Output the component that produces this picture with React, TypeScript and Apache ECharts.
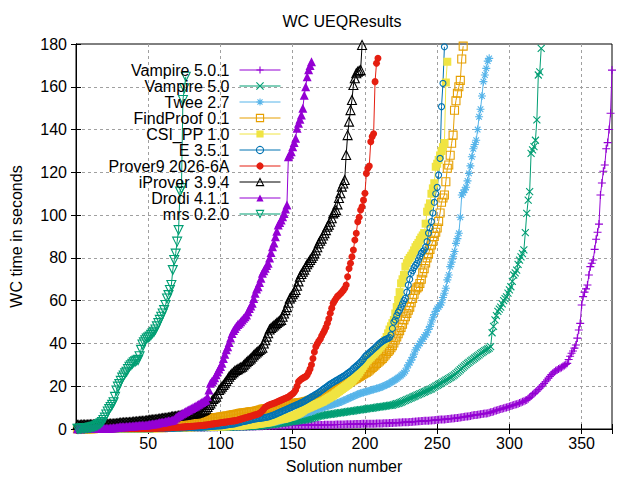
import React, { useEffect, useRef } from "react";
import * as echarts from "echarts";

// WC time in seconds, sorted; the solution number is index + 1
const vampire501Times = [
  0.1, 0.1, 0.1, 0.1, 0.1, 0.1, 0.1, 0.1, 0.1, 0.1,
  0.1, 0.1, 0.1, 0.1, 0.1, 0.1, 0.1, 0.1, 0.1, 0.1,
  0.2, 0.2, 0.2, 0.2, 0.2, 0.2, 0.2, 0.2, 0.2, 0.2,
  0.2, 0.2, 0.2, 0.2, 0.2, 0.2, 0.2, 0.3, 0.3, 0.3,
  0.3, 0.3, 0.3, 0.3, 0.3, 0.3, 0.3, 0.3, 0.3, 0.3,
  0.3, 0.3, 0.4, 0.4, 0.4, 0.4, 0.4, 0.4, 0.4, 0.4,
  0.4, 0.4, 0.4, 0.5, 0.5, 0.5, 0.5, 0.5, 0.5, 0.5,
  0.5, 0.5, 0.5, 0.6, 0.6, 0.6, 0.6, 0.6, 0.6, 0.6,
  0.6, 0.7, 0.7, 0.7, 0.7, 0.7, 0.7, 0.7, 0.7, 0.8,
  0.8, 0.8, 0.8, 0.8, 0.8, 0.8, 0.8, 0.8, 0.9, 0.9,
  0.9, 0.9, 0.9, 0.9, 0.9, 1.0, 1.0, 1.0, 1.0, 1.0,
  1.0, 1.0, 1.1, 1.1, 1.1, 1.1, 1.1, 1.1, 1.2, 1.2,
  1.2, 1.2, 1.2, 1.2, 1.3, 1.3, 1.3, 1.3, 1.3, 1.4,
  1.4, 1.4, 1.4, 1.4, 1.5, 1.5, 1.5, 1.5, 1.5, 1.6,
  1.6, 1.6, 1.6, 1.6, 1.6, 1.7, 1.7, 1.7, 1.7, 1.7,
  1.7, 1.7, 1.8, 1.8, 1.8, 1.8, 1.8, 1.8, 1.8, 1.8,
  1.8, 1.8, 1.9, 1.9, 1.9, 1.9, 1.9, 1.9, 1.9, 1.9,
  1.9, 2.0, 2.0, 2.0, 2.0, 2.0, 2.0, 2.0, 2.0, 2.1,
  2.1, 2.1, 2.1, 2.1, 2.1, 2.1, 2.2, 2.2, 2.2, 2.2,
  2.2, 2.2, 2.3, 2.3, 2.3, 2.3, 2.3, 2.4, 2.4, 2.4,
  2.4, 2.4, 2.5, 2.5, 2.5, 2.5, 2.5, 2.6, 2.6, 2.6,
  2.6, 2.6, 2.7, 2.7, 2.7, 2.7, 2.8, 2.8, 2.8, 2.9,
  2.9, 2.9, 3.0, 3.0, 3.0, 3.1, 3.1, 3.2, 3.2, 3.2,
  3.3, 3.3, 3.4, 3.4, 3.5, 3.5, 3.6, 3.6, 3.7, 3.7,
  3.8, 3.8, 3.9, 3.9, 4.0, 4.0, 4.1, 4.1, 4.2, 4.3,
  4.3, 4.4, 4.4, 4.5, 4.5, 4.6, 4.7, 4.7, 4.8, 4.9,
  4.9, 5.0, 5.1, 5.2, 5.3, 5.4, 5.5, 5.6, 5.7, 5.8,
  5.9, 6.0, 6.1, 6.3, 6.4, 6.5, 6.6, 6.7, 6.8, 6.9,
  7.0, 7.1, 7.2, 7.3, 7.4, 7.6, 7.8, 8.0, 8.2, 8.5,
  8.7, 8.9, 9.1, 9.3, 9.5, 9.7, 9.9, 10.1, 10.3, 10.5,
  10.8, 11.0, 11.2, 11.4, 11.6, 11.8, 12.1, 12.4, 12.7, 13.0,
  13.3, 13.6, 14.2, 14.8, 15.4, 16.0, 16.6, 17.2, 17.8, 18.5,
  19.2, 19.9, 20.6, 21.3, 22.1, 22.9, 23.8, 24.6, 25.4, 26.1,
  26.7, 27.2, 27.6, 28.0, 28.4, 28.8, 29.2, 29.7, 30.2, 30.7,
  32.5, 34.0, 35.4, 36.5, 37.8, 39.3, 42.5, 46.3, 49.4, 58.0,
  61.9, 64.0, 65.5, 67.3, 72.0, 75.9, 77.5, 79.0, 84.0, 88.7,
  92.0, 95.8, 109.4, 115.0, 120.5, 123.4, 131.0, 133.9, 140.0, 147.6,
  167.8,
];

const vampire50Times = [
  0.1, 0.1, 0.1, 0.1, 0.1, 0.1, 0.1, 0.1, 0.1, 0.1,
  0.1, 0.1, 0.1, 0.1, 0.1, 0.1, 0.1, 0.1, 0.1, 0.1,
  0.1, 0.1, 0.1, 0.1, 0.1, 0.2, 0.2, 0.2, 0.2, 0.2,
  0.2, 0.2, 0.2, 0.2, 0.2, 0.2, 0.2, 0.2, 0.2, 0.2,
  0.2, 0.2, 0.3, 0.3, 0.3, 0.3, 0.3, 0.3, 0.3, 0.3,
  0.3, 0.3, 0.3, 0.3, 0.4, 0.4, 0.4, 0.4, 0.4, 0.4,
  0.4, 0.4, 0.4, 0.4, 0.4, 0.5, 0.5, 0.5, 0.5, 0.5,
  0.5, 0.5, 0.5, 0.5, 0.6, 0.6, 0.6, 0.6, 0.6, 0.6,
  0.6, 0.6, 0.7, 0.7, 0.7, 0.7, 0.7, 0.7, 0.7, 0.7,
  0.7, 0.8, 0.8, 0.8, 0.8, 0.8, 0.8, 0.8, 0.8, 0.8,
  0.9, 0.9, 0.9, 0.9, 0.9, 0.9, 0.9, 1.0, 1.0, 1.0,
  1.0, 1.0, 1.0, 1.0, 1.0, 1.1, 1.1, 1.1, 1.1, 1.1,
  1.1, 1.1, 1.2, 1.2, 1.3, 1.3, 1.4, 1.5, 1.5, 1.6,
  1.7, 1.8, 1.9, 2.0, 2.0, 2.1, 2.2, 2.3, 2.4, 2.5,
  2.6, 2.7, 2.8, 2.9, 3.0, 3.1, 3.2, 3.3, 3.4, 3.5,
  3.6, 3.7, 3.8, 3.9, 4.0, 4.1, 4.2, 4.3, 4.4, 4.5,
  4.6, 4.8, 5.0, 5.2, 5.4, 5.6, 5.8, 6.0, 6.1, 6.3,
  6.4, 6.5, 6.6, 6.7, 6.8, 6.9, 7.0, 7.1, 7.2, 7.3,
  7.4, 7.5, 7.6, 7.7, 7.8, 7.9, 8.0, 8.1, 8.2, 8.3,
  8.4, 8.5, 8.6, 8.7, 8.8, 8.9, 9.0, 9.1, 9.2, 9.3,
  9.4, 9.5, 9.6, 9.7, 9.8, 9.9, 10.0, 10.1, 10.2, 10.3,
  10.4, 10.5, 10.6, 10.7, 10.8, 10.9, 11.0, 11.1, 11.2, 11.4,
  11.6, 11.8, 12.0, 12.2, 12.5, 12.8, 13.1, 13.4, 13.7, 14.0,
  14.3, 14.6, 14.9, 15.2, 15.5, 15.8, 16.1, 16.4, 16.7, 17.0,
  17.3, 17.6, 17.9, 18.2, 18.5, 18.8, 19.2, 19.6, 20.0, 20.4,
  20.8, 21.2, 21.6, 22.0, 22.4, 22.8, 23.2, 23.6, 24.0, 24.4,
  24.8, 25.3, 25.9, 26.5, 27.1, 27.7, 28.3, 28.9, 29.5, 30.1,
  30.7, 31.2, 31.7, 32.2, 32.7, 33.2, 33.7, 34.2, 34.7, 35.2,
  35.7, 36.2, 36.6, 37.0, 37.4, 37.8, 38.5, 45.0, 48.0, 51.0,
  53.0, 55.0, 56.0, 57.0, 58.5, 60.0, 61.0, 61.8, 63.5, 65.0,
  66.5, 69.0, 72.0, 73.0, 74.3, 77.0, 79.0, 80.5, 82.0, 83.7,
  91.8, 100.8, 107.0, 111.0, 128.9, 130.5, 132.0, 135.0, 144.5, 165.5,
  167.0, 178.0,
];

const tweeTimes = [
  0.1, 0.1, 0.1, 0.1, 0.1, 0.1, 0.1, 0.1, 0.1, 0.1,
  0.1, 0.1, 0.1, 0.1, 0.1, 0.2, 0.2, 0.2, 0.2, 0.2,
  0.2, 0.2, 0.2, 0.2, 0.2, 0.2, 0.2, 0.2, 0.2, 0.2,
  0.2, 0.2, 0.3, 0.3, 0.3, 0.3, 0.3, 0.3, 0.3, 0.3,
  0.3, 0.3, 0.4, 0.4, 0.4, 0.4, 0.4, 0.4, 0.4, 0.4,
  0.4, 0.5, 0.5, 0.5, 0.5, 0.5, 0.5, 0.5, 0.5, 0.6,
  0.6, 0.6, 0.6, 0.6, 0.6, 0.7, 0.7, 0.7, 0.7, 0.7,
  0.7, 0.8, 0.8, 0.8, 0.8, 0.8, 0.9, 0.9, 0.9, 0.9,
  0.9, 1.0, 1.0, 1.0, 1.0, 1.0, 1.1, 1.1, 1.1, 1.1,
  1.1, 1.2, 1.2, 1.2, 1.2, 1.2, 1.3, 1.3, 1.3, 1.3,
  1.3, 1.4, 1.4, 1.4, 1.5, 1.5, 1.5, 1.6, 1.6, 1.6,
  1.7, 1.7, 1.7, 1.8, 1.8, 1.8, 1.9, 1.9, 1.9, 2.0,
  2.0, 2.0, 2.1, 2.1, 2.2, 2.2, 2.3, 2.3, 2.4, 2.5,
  2.6, 2.7, 2.8, 2.9, 3.0, 3.1, 3.2, 3.3, 3.4, 3.6,
  3.8, 4.0, 4.2, 4.4, 4.6, 4.8, 5.0, 5.2, 5.4, 5.6,
  5.8, 6.0, 6.2, 6.4, 6.6, 6.8, 7.0, 7.2, 7.4, 7.6,
  7.8, 8.0, 8.2, 8.5, 8.8, 9.1, 9.3, 9.5, 9.7, 9.9,
  10.1, 10.3, 10.5, 10.7, 10.9, 11.1, 11.3, 11.5, 11.7, 11.9,
  12.1, 12.3, 12.6, 12.9, 13.2, 13.5, 13.8, 14.1, 14.4, 14.7,
  15.0, 15.3, 15.6, 15.9, 16.2, 16.5, 16.7, 16.9, 17.1, 17.3,
  17.5, 17.7, 17.9, 18.1, 18.3, 18.5, 18.7, 18.9, 19.1, 19.3,
  19.5, 19.8, 20.1, 20.4, 20.7, 21.0, 21.4, 21.8, 22.2, 22.6,
  23.0, 23.5, 24.0, 24.5, 25.0, 25.6, 26.3, 27.0, 28.5, 30.0,
  31.0, 32.2, 33.5, 35.0, 37.0, 38.0, 39.0, 40.0, 41.0, 42.0,
  43.0, 44.0, 45.0, 46.5, 48.0, 50.0, 52.0, 53.5, 55.0, 56.4,
  57.0, 58.0, 59.0, 61.5, 63.5, 65.8, 69.7, 72.0, 75.9, 78.0,
  80.5, 83.0, 86.8, 89.0, 91.5, 99.0, 109.4, 110.5, 111.8, 113.0,
  116.0, 119.5, 123.0, 127.3, 131.0, 133.0, 135.0, 140.0, 146.0, 149.5,
  155.7, 162.4, 165.5, 168.6, 172.0, 173.3,
];

const findProofTimes = [
  0.1, 0.1, 0.1, 0.1, 0.1, 0.1, 0.1, 0.1, 0.1, 0.1,
  0.1, 0.1, 0.2, 0.2, 0.2, 0.2, 0.2, 0.2, 0.2, 0.2,
  0.3, 0.3, 0.3, 0.3, 0.3, 0.3, 0.4, 0.4, 0.4, 0.4,
  0.4, 0.4, 0.5, 0.5, 0.5, 0.5, 0.5, 0.6, 0.6, 0.6,
  0.6, 0.7, 0.7, 0.7, 0.7, 0.8, 0.8, 0.8, 0.9, 0.9,
  0.9, 1.0, 1.0, 1.0, 1.1, 1.1, 1.1, 1.2, 1.2, 1.3,
  1.3, 1.4, 1.4, 1.5, 1.5, 1.6, 1.6, 1.7, 1.8, 1.9,
  2.0, 2.6, 3.2, 3.4, 3.5, 3.5, 3.6, 3.7, 3.8, 3.9,
  4.0, 4.1, 4.2, 4.3, 4.4, 4.5, 4.6, 4.7, 4.8, 4.9,
  5.0, 5.0, 5.1, 5.2, 5.2, 5.3, 5.4, 5.4, 5.5, 5.6,
  5.7, 5.8, 5.9, 6.0, 6.1, 6.2, 6.4, 6.5, 6.6, 6.8,
  6.9, 7.0, 7.2, 7.3, 7.4, 7.5, 7.6, 7.7, 7.8, 7.9,
  8.0, 8.1, 8.2, 8.3, 8.4, 8.6, 8.8, 9.0, 9.2, 9.3,
  9.4, 9.5, 9.6, 9.7, 9.8, 9.9, 10.0, 10.2, 10.4, 10.6,
  10.8, 11.0, 11.1, 11.2, 11.3, 11.4, 11.5, 11.6, 11.7, 11.8,
  11.9, 12.0, 12.1, 12.2, 12.3, 12.4, 12.5, 12.6, 12.8, 13.0,
  13.2, 13.4, 13.6, 13.8, 14.0, 14.2, 14.4, 14.7, 15.0, 15.3,
  15.6, 15.9, 16.2, 16.5, 16.8, 17.1, 17.4, 17.7, 18.0, 18.3,
  18.6, 19.0, 19.4, 19.8, 20.2, 20.6, 21.0, 21.4, 21.8, 22.2,
  22.6, 23.0, 23.4, 23.8, 24.2, 24.6, 25.0, 25.4, 25.8, 26.2,
  26.6, 27.0, 27.6, 28.2, 28.8, 29.4, 30.0, 30.6, 31.2, 31.8,
  32.4, 33.0, 33.8, 34.6, 35.4, 36.2, 37.0, 38.0, 39.0, 40.2,
  41.6, 43.0, 44.5, 46.0, 47.5, 49.0, 51.0, 52.5, 54.0, 55.5,
  57.0, 59.0, 61.0, 63.0, 65.0, 66.0, 66.5, 68.0, 70.0, 73.0,
  75.0, 77.6, 80.0, 82.0, 84.0, 86.0, 87.7, 90.0, 92.0, 94.0,
  97.0, 101.0, 106.0, 108.0, 109.4, 115.6, 121.9, 123.4, 128.0, 133.6,
  137.4, 149.0, 153.5, 157.0, 160.0, 163.0, 173.0, 179.0,
];

const csiPpTimes = [
  0.1, 0.1, 0.1, 0.1, 0.1, 0.1, 0.1, 0.1, 0.1, 0.1,
  0.1, 0.1, 0.1, 0.1, 0.1, 0.1, 0.1, 0.1, 0.1, 0.1,
  0.1, 0.1, 0.1, 0.1, 0.1, 0.2, 0.2, 0.2, 0.2, 0.2,
  0.2, 0.2, 0.2, 0.2, 0.2, 0.2, 0.2, 0.2, 0.2, 0.2,
  0.2, 0.2, 0.2, 0.3, 0.3, 0.3, 0.3, 0.3, 0.3, 0.3,
  0.3, 0.3, 0.3, 0.3, 0.4, 0.4, 0.4, 0.4, 0.4, 0.4,
  0.4, 0.5, 0.5, 0.5, 0.5, 0.5, 0.6, 0.6, 0.6, 0.6,
  0.6, 0.7, 0.7, 0.7, 0.7, 0.8, 0.8, 0.8, 0.8, 0.9,
  0.9, 0.9, 0.9, 1.0, 1.0, 1.0, 1.0, 1.0, 1.1, 1.1,
  1.1, 1.1, 1.1, 1.1, 1.2, 1.2, 1.2, 1.2, 1.2, 1.2,
  1.3, 1.3, 1.3, 1.3, 1.3, 1.4, 1.4, 1.4, 1.4, 1.5,
  1.5, 1.5, 1.6, 1.6, 1.7, 1.7, 1.8, 1.8, 1.9, 1.9,
  2.0, 2.0, 2.1, 2.2, 2.3, 2.4, 2.5, 2.6, 2.7, 2.8,
  2.9, 3.0, 3.1, 3.2, 3.4, 3.6, 3.8, 4.0, 4.2, 4.4,
  4.5, 4.6, 4.7, 4.8, 5.0, 5.2, 5.4, 5.6, 5.8, 6.0,
  6.3, 6.6, 6.9, 7.2, 7.6, 8.0, 8.5, 9.0, 9.3, 9.6,
  9.9, 10.2, 10.5, 10.8, 11.1, 11.4, 11.7, 12.0, 12.3, 12.6,
  12.9, 13.3, 13.7, 14.1, 14.5, 14.9, 15.3, 15.7, 16.2, 16.7,
  17.2, 17.7, 18.2, 18.7, 19.2, 19.7, 20.2, 20.7, 21.3, 21.9,
  22.5, 23.2, 24.0, 24.8, 25.6, 26.5, 27.5, 28.5, 29.5, 30.5,
  31.5, 32.3, 33.0, 33.7, 34.4, 35.1, 35.8, 36.5, 37.2, 38.0,
  38.8, 39.6, 40.5, 41.5, 43.0, 44.7, 46.5, 48.0, 49.5, 51.0,
  54.0, 57.0, 60.3, 64.0, 68.1, 70.0, 72.0, 75.9, 77.5, 79.0,
  80.0, 81.0, 82.1, 83.5, 85.0, 86.0, 87.0, 88.4, 89.5, 90.5,
  91.6, 96.0, 101.6, 103.5, 105.5, 110.0, 112.5, 114.9, 122.6, 124.0,
  125.8, 127.9, 130.0, 131.8, 133.7, 162.0, 171.7,
];

const eTimes = [
  0.1, 0.1, 0.1, 0.1, 0.1, 0.1, 0.1, 0.1, 0.1, 0.1,
  0.1, 0.1, 0.1, 0.1, 0.1, 0.1, 0.1, 0.1, 0.1, 0.1,
  0.1, 0.1, 0.1, 0.1, 0.1, 0.1, 0.1, 0.1, 0.1, 0.1,
  0.1, 0.1, 0.1, 0.1, 0.1, 0.2, 0.2, 0.2, 0.2, 0.2,
  0.2, 0.2, 0.2, 0.2, 0.2, 0.2, 0.2, 0.2, 0.2, 0.2,
  0.2, 0.2, 0.2, 0.3, 0.3, 0.3, 0.3, 0.3, 0.3, 0.3,
  0.3, 0.3, 0.4, 0.4, 0.4, 0.4, 0.4, 0.4, 0.5, 0.5,
  0.5, 0.5, 0.5, 0.6, 0.6, 0.6, 0.6, 0.7, 0.7, 0.7,
  0.7, 0.8, 0.8, 0.8, 0.9, 0.9, 0.9, 1.0, 1.0, 1.0,
  1.1, 1.1, 1.2, 1.2, 1.3, 1.3, 1.4, 1.4, 1.5, 1.5,
  1.6, 1.7, 1.8, 1.9, 2.0, 2.1, 2.2, 2.3, 2.4, 2.5,
  2.7, 2.9, 3.0, 3.2, 3.4, 3.5, 3.7, 3.8, 4.0, 4.1,
  4.3, 4.5, 4.6, 4.7, 4.8, 4.9, 5.0, 5.1, 5.2, 5.3,
  5.4, 5.5, 5.7, 5.9, 6.1, 6.3, 6.6, 6.9, 7.2, 7.5,
  7.8, 8.1, 8.4, 8.7, 9.0, 9.3, 9.6, 9.9, 10.2, 10.5,
  10.8, 11.1, 11.4, 11.7, 12.0, 12.3, 12.6, 13.0, 13.4, 13.8,
  14.2, 14.6, 15.0, 15.4, 15.8, 16.2, 16.6, 17.0, 17.5, 18.0,
  18.5, 19.0, 19.5, 20.0, 20.5, 21.0, 21.4, 21.8, 22.2, 22.6,
  23.0, 23.4, 23.8, 24.2, 24.6, 25.0, 25.5, 26.0, 26.5, 27.0,
  27.6, 28.2, 28.8, 29.4, 30.0, 30.6, 31.3, 32.0, 32.8, 33.8,
  34.4, 35.0, 35.6, 36.2, 36.8, 37.4, 38.0, 38.6, 39.3, 39.9,
  40.5, 41.0, 41.4, 41.8, 42.1, 42.4, 42.8, 44.0, 47.0, 50.0,
  51.0, 53.0, 54.5, 55.6, 57.0, 58.5, 60.0, 61.1, 64.0, 67.3,
  70.0, 72.8, 74.0, 75.5, 76.5, 77.5, 79.0, 80.5, 82.1, 83.0,
  83.7, 85.0, 87.6, 91.6, 94.0, 97.0, 101.0, 106.0, 110.0, 113.0,
  118.7, 126.5, 150.7, 161.6, 178.7,
];

const prover9Times = [
  0.1, 0.1, 0.1, 0.1, 0.1, 0.1, 0.1, 0.1, 0.1, 0.1,
  0.1, 0.1, 0.1, 0.1, 0.1, 0.1, 0.1, 0.1, 0.1, 0.1,
  0.1, 0.1, 0.1, 0.1, 0.1, 0.2, 0.2, 0.2, 0.2, 0.2,
  0.2, 0.2, 0.2, 0.2, 0.2, 0.2, 0.2, 0.2, 0.2, 0.2,
  0.2, 0.2, 0.3, 0.3, 0.3, 0.3, 0.3, 0.3, 0.3, 0.3,
  0.3, 0.4, 0.4, 0.4, 0.4, 0.4, 0.5, 0.5, 0.5, 0.5,
  0.5, 0.6, 0.6, 0.6, 0.6, 0.7, 0.7, 0.7, 0.8, 0.8,
  0.8, 0.9, 0.9, 1.0, 1.0, 1.1, 1.1, 1.2, 1.2, 1.3,
  1.3, 1.4, 1.4, 1.5, 1.5, 1.6, 1.6, 1.7, 1.8, 1.9,
  2.0, 2.1, 2.2, 2.3, 2.4, 2.5, 2.6, 2.7, 2.8, 2.9,
  3.0, 3.1, 3.2, 3.3, 3.4, 3.5, 3.6, 3.7, 3.8, 3.9,
  4.0, 4.2, 4.4, 4.6, 4.8, 5.0, 5.2, 5.4, 5.6, 5.8,
  6.0, 6.2, 6.4, 6.6, 6.8, 7.0, 7.3, 7.8, 8.5, 9.3,
  10.2, 10.6, 11.0, 11.3, 11.6, 11.8, 12.0, 12.3, 12.6, 12.9,
  13.2, 13.5, 13.8, 14.1, 14.4, 14.7, 15.0, 15.5, 16.0, 16.5,
  17.2, 18.2, 20.0, 22.1, 22.8, 23.4, 23.8, 24.2, 24.5, 25.2,
  26.5, 28.0, 30.0, 33.0, 36.0, 38.5, 39.8, 41.0, 42.0, 43.5,
  44.8, 46.0, 47.5, 49.4, 51.5, 54.1, 56.5, 58.8, 60.0, 61.0,
  62.0, 62.6, 63.2, 64.0, 64.8, 65.8, 67.3, 71.2, 75.0, 77.5,
  80.5, 83.7, 88.4, 91.5, 96.9, 99.0, 102.4, 103.9, 107.0, 110.2,
  119.5, 121.9, 123.0, 134.3, 136.7, 138.0, 162.4, 171.0, 173.3,
];

const iproverTimes = [
  1.9, 1.9, 1.9, 2.0, 2.0, 2.0, 2.0, 2.0, 2.1, 2.1,
  2.1, 2.1, 2.1, 2.2, 2.2, 2.2, 2.3, 2.3, 2.3, 2.3,
  2.4, 2.4, 2.4, 2.5, 2.5, 2.5, 2.6, 2.6, 2.7, 2.8,
  2.9, 2.9, 3.0, 3.0, 3.1, 3.1, 3.2, 3.2, 3.3, 3.4,
  3.4, 3.5, 3.5, 3.6, 3.7, 3.7, 3.8, 3.9, 4.0, 4.1,
  4.2, 4.3, 4.3, 4.4, 4.5, 4.6, 4.7, 4.8, 4.9, 5.0,
  5.1, 5.2, 5.3, 5.4, 5.5, 5.7, 5.8, 5.9, 6.0, 6.1,
  6.2, 6.3, 6.4, 6.5, 6.6, 6.7, 6.8, 6.9, 7.0, 7.1,
  7.2, 7.3, 7.3, 7.5, 7.7, 8.0, 8.3, 8.6, 8.9, 9.5,
  10.3, 11.2, 12.0, 13.0, 14.0, 14.6, 15.1, 16.5, 18.2, 19.0,
  19.8, 20.6, 21.4, 22.4, 23.4, 24.5, 25.3, 26.0, 26.6, 27.2,
  27.6, 28.0, 28.4, 28.8, 29.1, 29.8, 30.5, 31.2, 31.8, 32.4,
  33.0, 33.8, 34.5, 35.2, 35.8, 36.4, 37.0, 37.5, 38.0, 40.0,
  41.5, 43.2, 44.8, 46.5, 47.2, 47.8, 48.4, 49.0, 49.6, 50.2,
  50.6, 51.0, 52.5, 54.0, 55.6, 57.0, 59.0, 61.0, 61.9, 63.0,
  64.0, 65.0, 67.0, 69.0, 71.2, 72.5, 73.5, 74.5, 75.9, 77.0,
  78.0, 79.0, 80.0, 81.0, 82.1, 83.5, 85.0, 86.8, 88.0, 89.0,
  90.5, 91.5, 93.0, 94.6, 95.5, 96.9, 98.5, 100.8, 101.5, 102.4,
  105.0, 108.0, 110.2, 113.3, 114.8, 116.4, 128.1, 137.4, 143.7, 149.1,
  153.8, 160.8, 164.0, 166.3, 167.0, 167.5, 167.8, 179.5,
];

const drodiTimes = [
  0.1, 0.1, 0.1, 0.1, 0.2, 0.2, 0.2, 0.2, 0.3, 0.3,
  0.3, 0.3, 0.3, 0.3, 0.3, 0.3, 0.3, 0.3, 0.3, 0.3,
  0.3, 0.4, 0.4, 0.5, 0.5, 0.6, 0.6, 0.7, 0.8, 0.9,
  1.0, 1.0, 1.1, 1.1, 1.2, 1.2, 1.3, 1.3, 1.4, 1.4,
  1.5, 1.5, 1.6, 1.6, 1.7, 1.7, 1.8, 1.8, 1.9, 2.0,
  2.1, 2.2, 2.3, 2.4, 2.5, 2.7, 2.8, 3.0, 3.1, 3.2,
  3.3, 3.5, 3.6, 3.8, 3.9, 4.0, 4.2, 4.6, 5.2, 5.8,
  6.2, 6.6, 7.0, 7.4, 7.8, 8.2, 8.6, 8.9, 9.3, 9.6,
  10.0, 10.4, 10.8, 11.2, 11.6, 12.0, 12.4, 12.8, 13.2, 13.6,
  15.1, 18.2, 21.4, 22.2, 22.9, 24.0, 25.4, 26.8, 28.0, 29.2,
  30.7, 33.0, 35.0, 37.0, 38.5, 40.5, 42.5, 44.7, 46.0, 47.0,
  48.0, 48.8, 49.4, 50.2, 51.0, 51.8, 52.5, 53.3, 54.8, 56.3,
  57.5, 58.8, 61.0, 63.5, 65.5, 66.5, 68.5, 70.5, 72.8, 74.0,
  75.2, 76.5, 77.5, 80.0, 82.5, 85.2, 87.0, 89.9, 92.5, 95.4,
  96.5, 97.7, 99.2, 100.8, 102.8, 104.7, 127.3, 128.5, 129.6, 132.0,
  134.0, 135.9, 140.6, 142.9, 144.8, 146.8, 150.0, 156.0, 160.0, 164.7,
  168.0, 170.0, 171.7,
];

const mrsTimes = [
  0.1, 0.1, 0.2, 0.2, 0.3, 0.3, 0.4, 0.5, 0.6, 0.7,
  0.8, 1.0, 1.2, 1.5, 1.8, 2.2, 2.7, 3.3, 4.2, 5.3,
  6.8, 8.2, 9.3, 10.3, 11.3, 12.5, 15.0, 18.0, 19.8, 21.0,
  22.5, 24.0, 25.0, 26.0, 26.8, 28.0, 29.1, 29.8, 30.5, 31.2,
  31.6, 32.0, 32.3, 34.0, 37.0, 39.5, 40.5, 41.5, 42.3, 42.8,
  43.2, 44.0, 44.7, 45.5, 46.5, 48.0, 49.5, 51.0, 52.5, 54.0,
  55.6, 58.0, 61.0, 62.6, 65.0, 67.3, 74.3, 79.0, 82.0, 87.6,
  93.0, 111.0, 112.6, 153.8, 159.3, 164.7,
];

const xTicks = [50, 100, 150, 200, 250, 300, 350];

// gnuplot point types as ECharts symbols
const PLUS = "path://M0,5L10,5M5,0L5,10";
const CROSS = "path://M0,0L10,10M10,0L0,10";
const STAR = "path://M0,5L10,5M5,0L5,10M1.5,1.5L8.5,8.5M8.5,1.5L1.5,8.5";
const DOWN_TRIANGLE = "path://M0,0L10,0L5,8.7Z";

const FONT = "'Liberation Sans', Arial, sans-serif";
const CLEAR = "rgba(0,0,0,0)";

const provers = [
  { name: "Vampire 5.0.1", times: vampire501Times, color: "#9400d3", symbol: PLUS, size: 8, hollow: true },
  { name: "Vampire 5.0", times: vampire50Times, color: "#009e73", symbol: CROSS, size: 7, hollow: true },
  { name: "Twee 2.7", times: tweeTimes, color: "#56b4e9", symbol: STAR, size: 8, hollow: true },
  { name: "FindProof 0.1", times: findProofTimes, color: "#e69f00", symbol: "rect", size: 8, hollow: true },
  { name: "CSI_PP 1.0", times: csiPpTimes, color: "#f0e442", symbol: "rect", size: 8, hollow: false },
  { name: "E 3.5.1", times: eTimes, color: "#0072b2", symbol: "circle", size: 6, hollow: true },
  { name: "Prover9 2026-6A", times: prover9Times, color: "#e51e10", symbol: "circle", size: 7, hollow: false },
  { name: "iProver 3.9.4", times: iproverTimes, color: "#000000", symbol: "triangle", size: 9, hollow: true },
  { name: "Drodi 4.1.1", times: drodiTimes, color: "#9400d3", symbol: "triangle", size: 9, hollow: false },
  { name: "mrs 0.2.0", times: mrsTimes, color: "#009e73", symbol: DOWN_TRIANGLE, size: 9, hollow: true },
];

const markStyle = (color: string, hollow: boolean) =>
  hollow
    ? { color: CLEAR, borderColor: color, borderWidth: 1.1 }
    : { color, borderColor: color, borderWidth: 0 };

const App = () => {
  const chartRef = useRef<HTMLDivElement>(null);

  useEffect(() => {
    const chart = echarts.init(chartRef.current, null, { renderer: "svg" });
    const axisText = { color: "#000", fontSize: 16, fontFamily: FONT };
    const gridLine = { color: "#a0a0a0", type: [3, 3], width: 1 };
    const options = {
      animation: false,
      backgroundColor: "#ffffff",
      title: {
        text: "WC UEQResults",
        left: 342,
        top: 13,
        padding: 0,
        textAlign: "center",
        textStyle: { color: "#000", fontSize: 16, fontWeight: "normal", fontFamily: FONT },
      },
      grid: {
        left: 73,
        right: 28,
        top: 44,
        bottom: 51,
        show: true,
        borderColor: "#000",
        borderWidth: 1,
        backgroundColor: "transparent",
      },
      legend: {
        orient: "vertical",
        right: 359,
        top: 62,
        padding: 0,
        itemGap: 0,
        itemWidth: 41,
        itemHeight: 9,
        align: "right",
        selectedMode: false,
        data: provers.map((p) => ({
          name: p.name,
          itemStyle: markStyle(p.color, p.hollow),
          lineStyle: { color: p.color, width: 1 },
        })),
        formatter: (name: string) => `{n|${name}}`,
        textStyle: {
          rich: {
            n: {
              width: 150,
              align: "right",
              fontSize: 16,
              fontFamily: FONT,
              color: "#000",
              lineHeight: 15,
              padding: [0, 5, 0, 0],
            },
          },
        },
      },
      xAxis: [
        {
          type: "value",
          min: 0,
          max: 371,
          interval: 50,
          name: "Solution number",
          nameLocation: "middle",
          nameGap: 29,
          nameTextStyle: axisText,
          axisLine: { lineStyle: { color: "#000", width: 1 } },
          axisTick: { inside: true, length: 5, lineStyle: { color: "#000" } },
          axisLabel: {
            ...axisText,
            margin: 6,
            formatter: (v: number) => (xTicks.includes(v) ? String(v) : ""),
          },
          splitLine: { show: true, showMinLine: false, showMaxLine: false, lineStyle: gridLine },
        },
        {
          type: "value",
          position: "top",
          min: 0,
          max: 371,
          interval: 50,
          axisLine: { lineStyle: { color: "#000", width: 1 } },
          axisTick: { inside: true, length: 5, lineStyle: { color: "#000" } },
          axisLabel: { show: false },
          splitLine: { show: false },
        },
      ],
      yAxis: [
        {
          type: "value",
          min: 0,
          max: 180,
          interval: 20,
          name: "WC time in seconds",
          nameLocation: "middle",
          nameGap: 52,
          nameTextStyle: axisText,
          axisLine: { show: true, lineStyle: { color: "#000", width: 1 } },
          axisTick: { show: true, inside: true, length: 5, lineStyle: { color: "#000" } },
          axisLabel: { ...axisText, margin: 9 },
          splitLine: { show: true, showMinLine: false, showMaxLine: false, lineStyle: gridLine },
        },
        {
          type: "value",
          position: "right",
          min: 0,
          max: 180,
          interval: 20,
          axisLine: { show: true, lineStyle: { color: "#000", width: 1 } },
          axisTick: { show: true, inside: true, length: 5, lineStyle: { color: "#000" } },
          axisLabel: { show: false },
          splitLine: { show: false },
        },
      ],
      series: provers.map((p) => ({
        name: p.name,
        type: "line",
        xAxisIndex: 0,
        yAxisIndex: 0,
        data: p.times.map((t, i) => [i + 1, t]),
        symbol: p.symbol,
        symbolSize: p.size,
        showAllSymbol: true,
        silent: true,
        emphasis: { disabled: true },
        lineStyle: { color: p.color, width: 1 },
        itemStyle: markStyle(p.color, p.hollow),
      })),
    };
    chart.setOption(options);
    return () => {
      chart.dispose();
    };
  }, []);

  return (
    <div
      ref={chartRef}
      style={{ position: "fixed", left: 0, top: 0, width: 640, height: 480 }}
    />
  );
};

export default App;
